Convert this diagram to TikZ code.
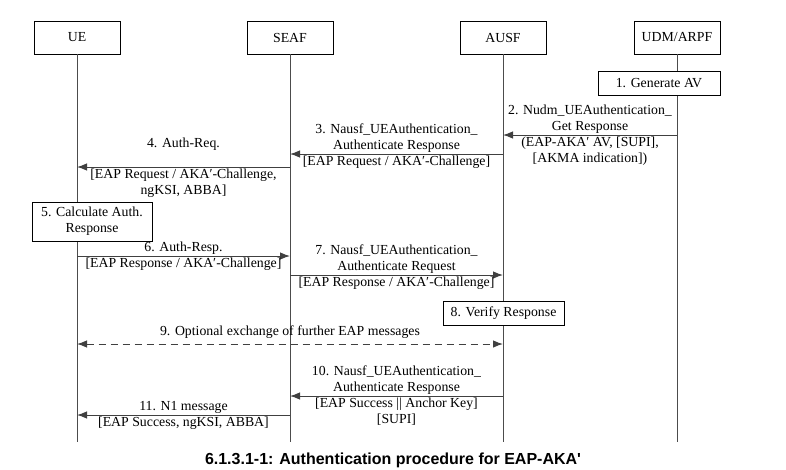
\documentclass[tikz,border=0pt]{standalone}
\usepackage{fontspec}
\setmainfont{Liberation Serif}
\newfontfamily\captionfont{Liberation Sans}
\usetikzlibrary{arrows.meta, positioning}

\begin{document}
\begin{tikzpicture}[x=1pt, y=-1pt,
        every node/.style={font=\fontsize{13.8}{16}\selectfont},
        entity/.style={rectangle, draw, fill=white, line width=0.8pt, minimum width=86pt, minimum height=33pt},
        stepbox/.style={rectangle, draw, fill=white, line width=0.8pt, align=center, inner sep=1pt},
        lifeline/.style={draw=black!70, line width=1pt},
        msg/.style={draw=black!75, line width=1pt, -{Latex[length=10pt, width=7.5pt]}},
        optmsg/.style={msg, {Latex[length=10pt, width=7.5pt]}-{Latex[length=10pt, width=7.5pt]}, dash pattern=on 7pt off 5pt},
        lbl/.style={align=center, inner sep=1pt}]
    \useasboundingbox (0,0) rectangle (786,469);

    % entities and their lifelines
    \node[entity] (ue) at (77,37.5) {UE};
    \node[entity] (seaf) at (290,37.5) {SEAF};
    \node[entity] (ausf) at (503,37.5) {AUSF};
    \node[entity] (udm) at (677,37.5) {UDM/ARPF};
    \coordinate (ueEnd) at (77,442);
    \coordinate (seafEnd) at (290,442);
    \coordinate (ausfEnd) at (503,442);
    \coordinate (udmEnd) at (677,442);
    \draw[lifeline] (ue) -- (ueEnd);
    \draw[lifeline] (seaf) -- (seafEnd);
    \draw[lifeline] (ausf) -- (ausfEnd);
    \draw[lifeline] (udm) -- (udmEnd);

    % local steps
    \node[stepbox, minimum width=122pt, minimum height=24pt] (genAV) at (659,83) {1. Generate AV};
    \node[stepbox, minimum width=120pt, minimum height=39pt] (calcRes) at (92,221.5) {5. Calculate Auth.\\Response};
    \node[stepbox, minimum width=121pt, minimum height=24pt] (verifyRes) at (503.5,313) {8. Verify Response};

    % message end points
    \coordinate (udm2) at (677,135);
    \coordinate (ausf2) at (503,135);
    \coordinate (ausf3) at (503,154);
    \coordinate (seaf3) at (290,154);
    \coordinate (seaf4) at (290,167);
    \coordinate (ue4) at (77,167);
    \coordinate (ue6) at (77,256);
    \coordinate (seaf6) at (290,256);
    \coordinate (seaf7) at (290,275);
    \coordinate (ausf7) at (503,275);
    \coordinate (ue9) at (77,344);
    \coordinate (ausf9) at (503,344);
    \coordinate (ausf10) at (503,396);
    \coordinate (seaf10) at (290,396);
    \coordinate (seaf11) at (290,415);
    \coordinate (ue11) at (77,415);

    % messages
    \draw[msg] (udm2) -- node[lbl, above] {2. Nudm\_UEAuthentication\_\\Get Response}
        node[lbl, below] {(EAP-AKA′ AV, [SUPI],\\{}[AKMA indication])} (ausf2);
    \draw[msg] (ausf3) -- node[lbl, above] {3. Nausf\_UEAuthentication\_\\Authenticate Response}
        node[lbl, below] {[EAP Request / AKA′-Challenge]} (seaf3);
    \draw[msg] (seaf4) -- node[lbl, above=15pt] {4. Auth-Req.}
        node[lbl, below] {[EAP Request / AKA′-Challenge,\\ngKSI, ABBA]} (ue4);
    \draw[msg] (ue6) -- node[lbl, above] {6. Auth-Resp.}
        node[lbl, below] {[EAP Response / AKA′-Challenge]} (seaf6);
    \draw[msg] (seaf7) -- node[lbl, above] {7. Nausf\_UEAuthentication\_\\Authenticate Request}
        node[lbl, below] {[EAP Response / AKA′-Challenge]} (ausf7);
    \draw[optmsg] (ue9) -- node[lbl, above=4pt] {9. Optional exchange of further EAP messages} (ausf9);
    \draw[msg] (ausf10) -- node[lbl, above] {10. Nausf\_UEAuthentication\_\\Authenticate Response}
        node[lbl, below] {[EAP Success || Anchor Key]\\{}[SUPI]} (seaf10);
    \draw[msg] (seaf11) -- node[lbl, above] {11. N1 message}
        node[lbl, below] {[EAP Success, ngKSI, ABBA]} (ue11);

    \node[font=\captionfont\bfseries\fontsize{16}{19}\selectfont] (caption) at (393,460) {6.1.3.1-1: Authentication procedure for EAP-AKA'};
\end{tikzpicture}
\end{document}
